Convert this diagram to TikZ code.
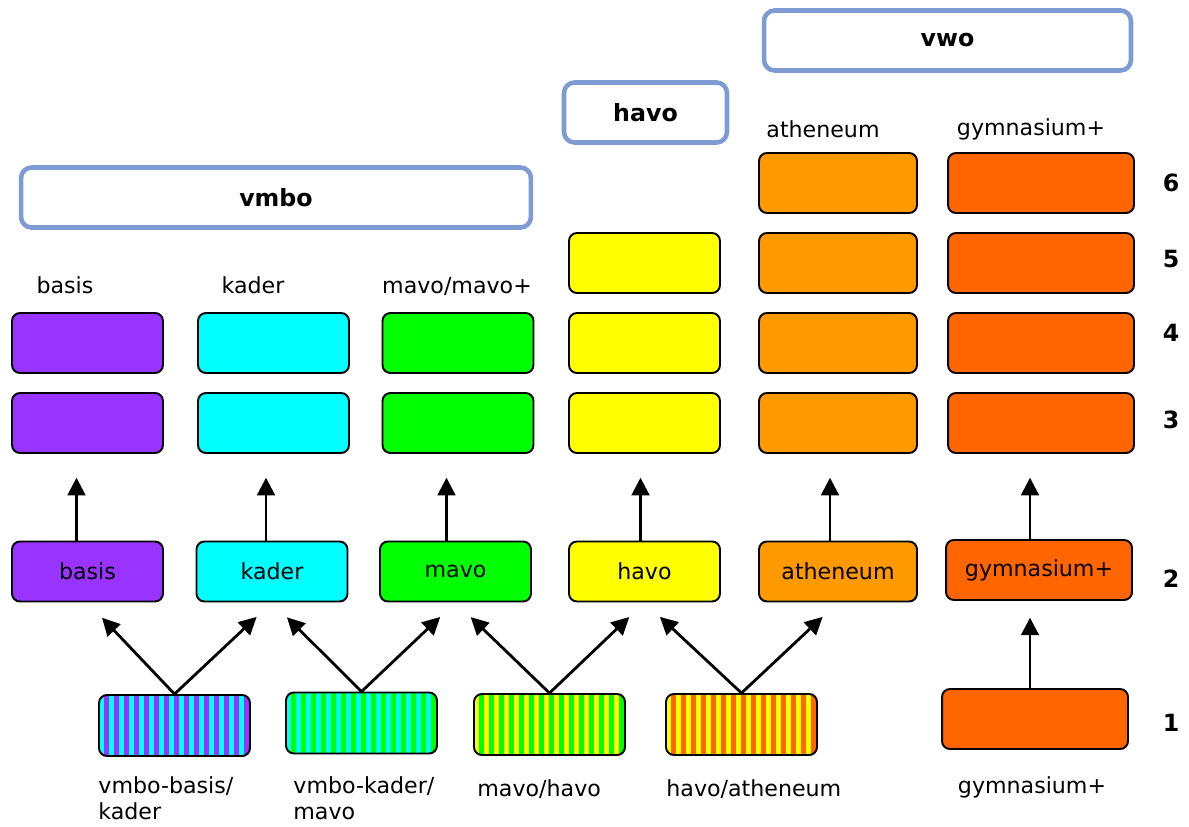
\documentclass[tikz,border=0pt]{standalone}
\usepackage{fontspec}
\setmainfont{DejaVu Sans}
\usepackage{xcolor}
\usepackage{tikz}
\usetikzlibrary{arrows.meta, positioning, calc}
\definecolor{vpurple}{HTML}{9933FF}
\definecolor{vcyan}{HTML}{00FFFF}
\definecolor{vgreen}{HTML}{00FF00}
\definecolor{vyellow}{HTML}{FFFF00}
\definecolor{vorange}{HTML}{FF9900}
\definecolor{vdorange}{HTML}{FF6600}
\definecolor{hblue}{HTML}{7F9BD3}

\begin{document}
\begin{tikzpicture}[x=0.02cm, y=0.02cm, font=\fontsize{12.6}{15}\selectfont,
    box/.style={draw, line width=1.1pt, rounded corners=4.5pt, minimum width=3.02cm, minimum height=1.2cm, inner sep=0pt, fill=#1},
    stripes/.style 2 args={draw, line width=1.1pt, rounded corners=4.5pt, minimum width=3.02cm, minimum height=1.22cm, fill=#1,
        path picture={\foreach \i in {0,...,15} \fill[#2, sharp corners] ([xshift=\i*0.2cm+0.1cm]path picture bounding box.south west) rectangle ++(0.1cm,1.4cm);}},
    head/.style={draw=hblue, line width=2.6pt, rounded corners=6pt, fill=white, minimum height=1.2cm, font=\fontsize{13.5}{15}\bfseries},
    lbl/.style={inner sep=0pt, align=left},
    num/.style={font=\fontsize{13.5}{15}\bfseries},
    arr/.style={-{Triangle[length=10pt, width=10pt]}, line width=1.6pt}]
\useasboundingbox (0,0) rectangle (1189,826);

\node[head, minimum width=10.2cm] (hvmbo) at (276,628.5) {vmbo};
\node[head, minimum width=3.26cm] (hhavo) at (645.5,713.5) {havo};
\node[head, minimum width=7.34cm] (hvwo) at (947.5,785.5) {vwo};

\node[lbl] (lba) at (65,541) {basis};
\node[lbl] (lka) at (253,541) {kader};
\node[lbl] (lma) at (457,540) {mavo/mavo+};
\node[lbl] (lat) at (823,697) {atheneum};
\node[lbl] (lgy) at (1031,697) {gymnasium+};

\foreach \n/\x/\c/\w/\top in {ba/87.5/vpurple/3.02/4, ka/273.5/vcyan/3.02/4, ma/458/vgreen/3.02/4,
    ha/644.5/vyellow/3.02/5, at/838/vorange/3.16/6, gy/1041/vdorange/3.72/6}
  \foreach \r in {3,...,\top}
    \node[box=\c, minimum width=\w cm] (\n\r) at (\x,{403+80*(\r-3)}) {};

\node[box=vpurple] (ba2) at (87.5,254.5) {basis};
\node[box=vcyan] (ka2) at (272,254.5) {kader};
\node[box=vgreen] (ma2) at (455.5,254.5) {mavo};
\node[box=vyellow] (ha2) at (644.5,254.5) {havo};
\node[box=vorange, minimum width=3.16cm] (at2) at (838,254.5) {atheneum};
\node[box=vdorange, minimum width=3.72cm] (gy2) at (1039,256) {gymnasium+};
\node[box=vdorange, minimum width=3.72cm] (gy1) at (1035,107) {};

\foreach \n/\d in {ba/-11, ka/-6, ma/-9, ha/-4, at/-8, gy/-9}
  \draw[arr, shorten >=13.5pt] ($(\n2.north)+(\d,0)$) -- ($(\n2.north |- \n3.south)+(\d,0)$);
\draw[arr, shorten >=9.5pt] ($(gy1.north)+(-5,0)$) -- ($(gy1.north |- gy2.south)+(-5,0)$);

\node[stripes={vcyan}{vpurple}] (s1) at (174.5,100.5) {};
\node[stripes={vcyan}{vgreen}] (s2) at (361.5,103) {};
\node[stripes={vyellow}{vgreen}] (s3) at (549.5,101.5) {};
\node[stripes={vyellow}{vdorange}] (s4) at (741.5,101.5) {};

\draw[arr, shorten >=12pt] (s1.north) -- (ba2.south);
\draw[arr, shorten >=12pt] (s1.north) -- (ka2.south);
\draw[arr, shorten >=12pt] (s2.north) -- (ka2.south);
\draw[arr, shorten >=12pt] (s2.north) -- (ma2.south);
\draw[arr, shorten >=12pt] (s3.north) -- (ma2.south);
\draw[arr, shorten >=12pt] (s3.north) -- (ha2.south);
\draw[arr, shorten >=12pt] (s4.north) -- (ha2.south);
\draw[arr, shorten >=12pt] (s4.north) -- (at2.south);

\node[lbl, anchor=north west] (t1) at ($(s1.south west)+(0,-19)$) {vmbo-basis/\\kader};
\node[lbl, anchor=north west] (t2) at ($(s2.south west)+(8,-22)$) {vmbo-kader/\\mavo};
\node[lbl, anchor=north west] (t3) at ($(s3.south west)+(4,-23)$) {mavo/havo};
\node[lbl, anchor=north west] (t4) at ($(s4.south west)+(1,-23)$) {havo/atheneum};
\node[lbl, anchor=north] (t5) at ($(gy1.south)+(-3,-26)$) {gymnasium+};

\foreach \r/\y in {6/643, 5/567, 4/493, 3/406, 2/247, 1/103}
  \node[num] (n\r) at (1171,\y) {\r};
\end{tikzpicture}
\end{document}
